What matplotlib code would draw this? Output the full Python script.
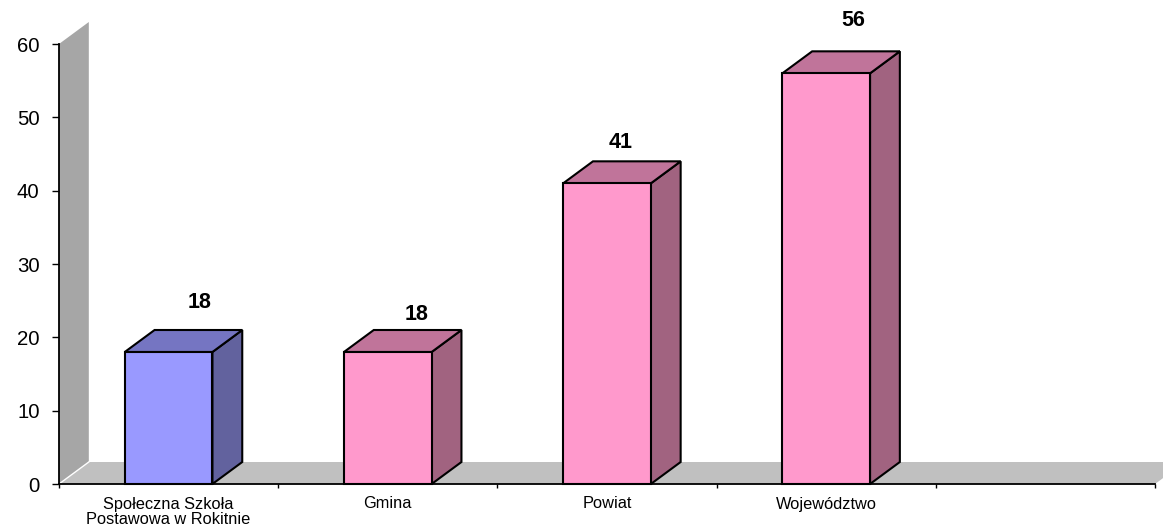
import matplotlib
matplotlib.use("Agg")
import matplotlib.pyplot as plt
from matplotlib.patches import Polygon

plt.rcParams['font.family'] = ['Liberation Sans', 'DejaVu Sans']

# data
categories = ['Społeczna Szkoła\nPostawowa w Rokitnie', 'Gmina', 'Powiat', 'Województwo', '']
values = [18, 18, 41, 56]
yticks = [0, 10, 20, 30, 40, 50, 60]

# look
front_cols = ['#9999FF', '#FF99CC', '#FF99CC', '#FF99CC']
top_cols = ['#7575C2', '#C0749A', '#C0749A', '#C0749A']
side_cols = ['#62629E', '#A16380', '#A16380', '#A16380']
label_off = [(0.139, 6.75), (0.129, 5.1), (0.064, 5.6), (0.122, 7.2)]
bar_w = 0.4
dx, dy = 0.136, 3.0   # 3d depth in data units

fig = plt.figure(figsize=(11.63, 5.31), dpi=100)
ax = fig.add_axes([59/1163, 47/531, 1096/1163, 440/531])
ax.set_xlim(-0.5, len(categories) - 0.5)
ax.set_ylim(0, 60)

x0, x1 = -0.5, len(categories) - 0.5
# floor and side wall
ax.add_patch(Polygon([(x0, 0), (x0 + dx, dy), (x1 + dx, dy), (x1, 0)],
                     closed=True, fc='#C0C0C0', ec='none', clip_on=False, zorder=0))
ax.add_patch(Polygon([(x0, 0), (x0, 60), (x0 + dx, 60 + dy), (x0 + dx, dy)],
                     closed=True, fc='#A6A6A6', ec='none', clip_on=False, zorder=0))
ax.plot([x0, x0 + dx], [0, dy], color='white', lw=1, clip_on=False, zorder=0.5)

for i, v in enumerate(values):
    l, r = i - bar_w / 2, i + bar_w / 2
    kw = dict(closed=True, ec='black', lw=1.5, clip_on=False, zorder=3, joinstyle='miter')
    ax.add_patch(Polygon([(r, 0), (r + dx, dy), (r + dx, v + dy), (r, v)], fc=side_cols[i], **kw))
    ax.add_patch(Polygon([(l, v), (l + dx, v + dy), (r + dx, v + dy), (r, v)], fc=top_cols[i], **kw))
    ax.add_patch(Polygon([(l, 0), (r, 0), (r, v), (l, v)], fc=front_cols[i], **kw))
    ox, oy = label_off[i]
    ax.text(i + ox, v + oy, str(v), ha='center', va='center',
            fontsize=15.5, fontweight='bold', zorder=4)

for s in ['top', 'right']:
    ax.spines[s].set_visible(False)
for s in ['left', 'bottom']:
    ax.spines[s].set_linewidth(1.3)
    ax.spines[s].set_zorder(2)

ax.set_yticks(yticks)
ax.tick_params(axis='y', labelsize=14.7, length=5, width=1, pad=9)
ax.set_xticks(range(len(categories)))
ax.set_xticklabels(categories, fontsize=11.8, linespacing=1.0)
ax.tick_params(axis='x', which='major', length=0, pad=9)
ax.set_xticks([k - 0.5 for k in range(len(categories) + 1)], minor=True)
ax.tick_params(axis='x', which='minor', length=3, width=1)

fig.savefig('out.png', dpi=100)
